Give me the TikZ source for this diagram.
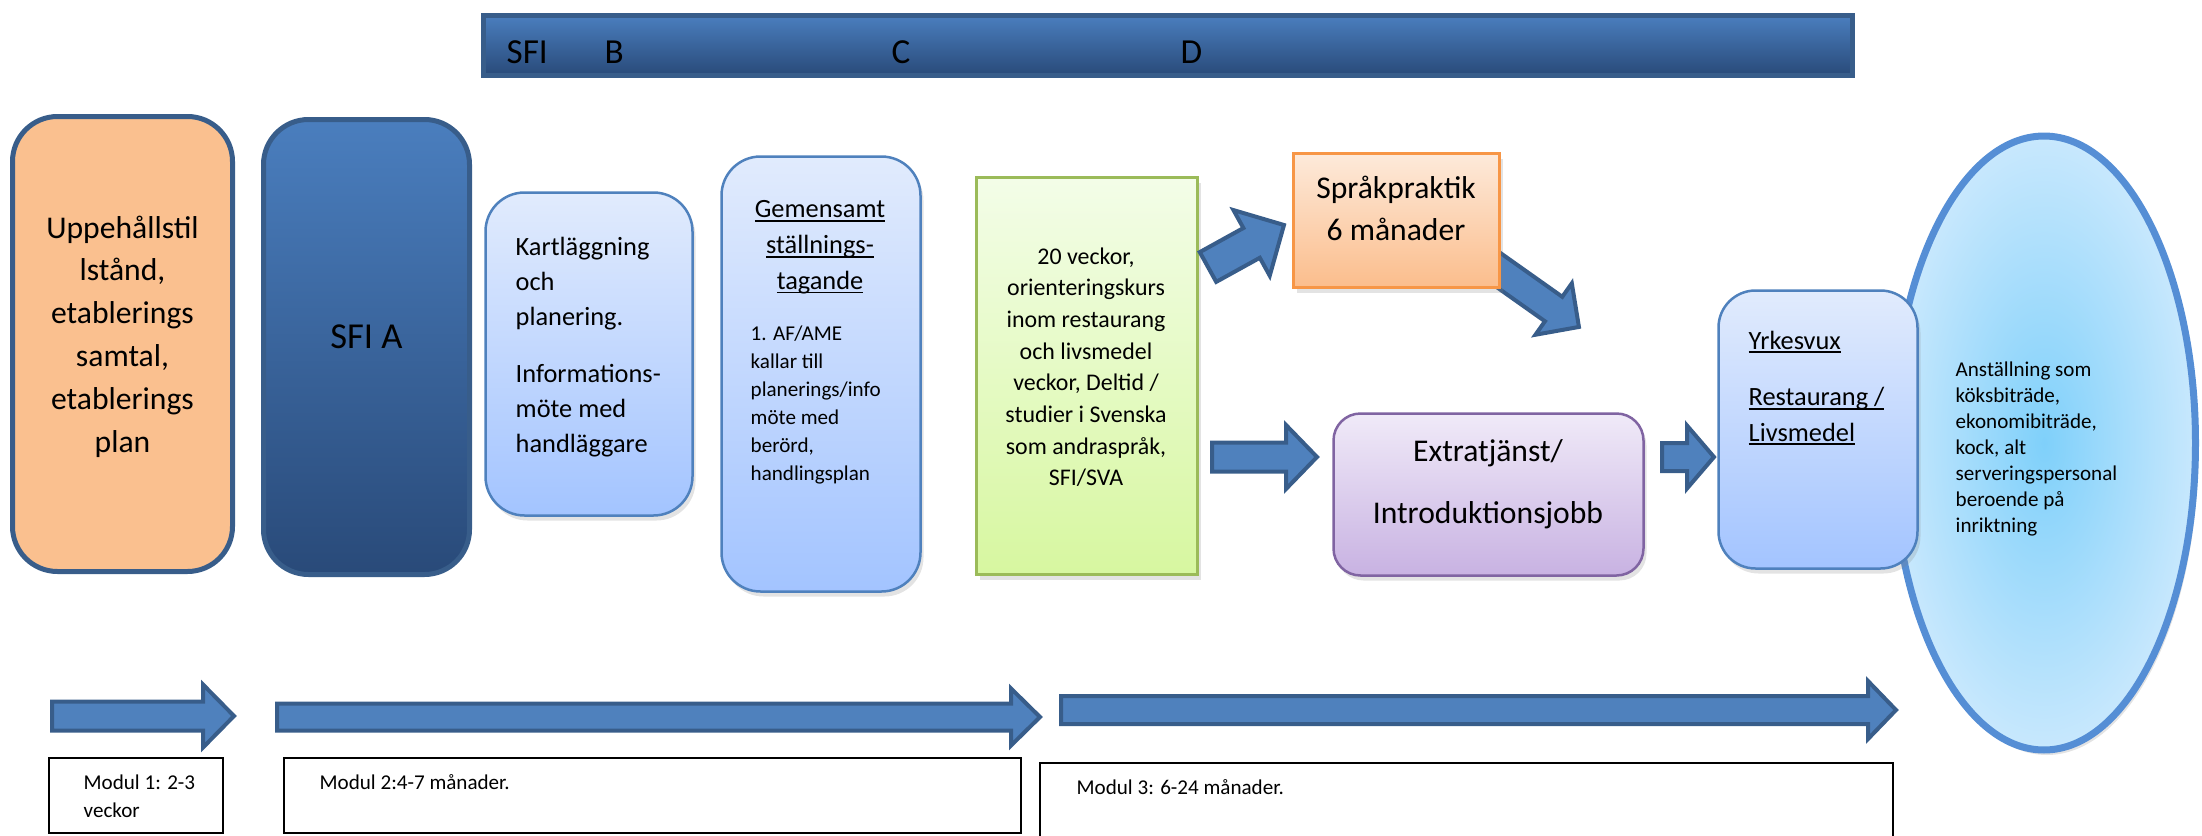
\documentclass[tikz,border=0pt]{standalone}
\usepackage{fontspec}
\setmainfont{Carlito}
\usetikzlibrary{shapes.geometric,shadows}

\definecolor{edgeblue}{RGB}{56,93,138}
\definecolor{arrowblue}{RGB}{79,129,189}
\definecolor{peach}{RGB}{250,192,143}
\definecolor{navytop}{RGB}{74,126,190}
\definecolor{navybot}{RGB}{41,74,121}
\definecolor{skytop}{RGB}{225,235,253}
\definecolor{skybot}{RGB}{163,196,255}
\definecolor{skyedge}{RGB}{79,129,189}
\definecolor{limetop}{RGB}{243,253,232}
\definecolor{limebot}{RGB}{215,247,160}
\definecolor{limeedge}{RGB}{155,187,89}
\definecolor{orangetop}{RGB}{253,234,218}
\definecolor{orangebot}{RGB}{251,189,140}
\definecolor{orangeedge}{RGB}{247,150,70}
\definecolor{lilactop}{RGB}{240,234,248}
\definecolor{lilacbot}{RGB}{200,178,226}
\definecolor{lilacedge}{RGB}{128,100,162}
\definecolor{jobinner}{RGB}{127,208,250}
\definecolor{jobouter}{RGB}{200,232,253}
\definecolor{jobedge}{RGB}{85,142,213}

\tikzset{
  lightshadow/.style={drop shadow={shadow xshift=0.3mm, shadow yshift=-0.5mm, opacity=0.22}},
  peachbox/.style={draw=edgeblue, line width=0.5mm, fill=peach, rounded corners=4.5mm, inner sep=0pt},
  navybox/.style={draw=edgeblue, line width=0.5mm, top color=navytop, bottom color=navybot, inner sep=0pt},
  skybox/.style={draw=skyedge, line width=0.25mm, top color=skytop, bottom color=skybot, rounded corners=3.9mm, inner sep=0pt, lightshadow},
  limebox/.style={draw=limeedge, line width=0.25mm, top color=limetop, bottom color=limebot, inner sep=0pt, lightshadow},
  orangebox/.style={draw=orangeedge, line width=0.25mm, top color=orangetop, bottom color=orangebot, inner sep=0pt, lightshadow},
  lilacbox/.style={draw=lilacedge, line width=0.25mm, top color=lilactop, bottom color=lilacbot, rounded corners=2.7mm, inner sep=0pt, lightshadow},
  jobbox/.style={ellipse, draw=jobedge, line width=0.7mm, inner color=jobinner, outer color=jobouter, inner sep=0pt, lightshadow},
  modbox/.style={draw=black, line width=0.2mm, fill=white, inner sep=0pt},
  flowarrow/.style={fill=arrowblue, draw=edgeblue, line width=0.4mm},
  txt/.style={inner sep=0pt, align=center},
  bigtxt/.style={txt, font=\fontsize{9}{12.2}\selectfont},
  sfitxt/.style={txt, font=\fontsize{10.4}{12}\selectfont},
  bartxt/.style={txt, anchor=base west, font=\fontsize{10}{12}\selectfont},
  midtxt/.style={txt, font=\fontsize{7.5}{10}\selectfont},
  coursetxt/.style={txt, font=\fontsize{6.8}{9}\selectfont},
  smalltxt/.style={txt, align=left, font=\fontsize{6}{8}\selectfont},
  tinytxt/.style={txt, align=left, font=\fontsize{6}{7.4}\selectfont},
}

% underline at a fixed depth, through the descenders
\newcommand\ulword[1]{\setbox0\hbox{#1}\rlap{\rule[-1.1pt]{\wd0}{0.5pt}}\box0}

% block arrow from one named coordinate to another: shaft, head width, head length
\newcommand\blockarrow[5]{%
  \pgfpointdiff{\pgfpointanchor{#1}{center}}{\pgfpointanchor{#2}{center}}%
  \pgfgetlastxy{\arrdx}{\arrdy}%
  \pgfmathsetmacro\arrang{atan2(\arrdy,\arrdx)}%
  \pgfmathsetmacro\arrlen{veclen(\arrdx,\arrdy)/0.284528}%
  \begin{scope}[shift={(#1)}, rotate=\arrang, y=0.1mm]
    \filldraw[flowarrow] (0,-#3/2) -- (\arrlen-#5,-#3/2) -- (\arrlen-#5,-#4/2)
      -- (\arrlen,0) -- (\arrlen-#5,#4/2) -- (\arrlen-#5,#3/2) -- (0,#3/2) -- cycle;
  \end{scope}}

\begin{document}
\begin{tikzpicture}[x=0.1mm, y=-0.1mm]
  \useasboundingbox (0,0) rectangle (2202,836);
  \clip (0,0) rectangle (2202,836);

  % SFI bar on top
  \node[navybox, minimum width=136.9mm, minimum height=6mm] (sfibar) at (1168,45.5) {};
  \node[bartxt] (sfi) at (506,63) {SFI};
  \node[bartxt] (sfib) at (604,63) {B};
  \node[bartxt] (sfic) at (891,63) {C};
  \node[bartxt] (sfid) at (1180,63) {D};

  % goal: employment
  \node[jobbox, minimum width=30.3mm, minimum height=61.4mm] (job) at (2044,443) {};
  \node[tinytxt, anchor=north west] (job-txt) at (1955,361)
    {Anställning som\\köksbiträde,\\ekonomibiträde,\\kock, alt\\serveringspersonal\\beroende på\\inriktning};

  % first steps
  \node[peachbox, minimum width=22mm, minimum height=45.5mm] (permit) at (122.5,344) {};
  \node[bigtxt, anchor=north] (permit-txt) at (122.5,215)
    {Uppehållstil\\lstånd,\\etablerings\\samtal,\\etablerings\\plan};
  \node[navybox, rounded corners=4.5mm, minimum width=20.6mm, minimum height=45.5mm] (sfia) at (366.5,347) {};
  \node[sfitxt, anchor=base] (sfia-txt) at (366.5,348) {SFI A};

  \node[skybox, minimum width=20.7mm, minimum height=32.3mm] (mapping) at (589,354) {};
  \node[midtxt, align=left, anchor=north west] (mapping-txt) at (515,236)
    {Kartläggning\\och\\planering.\\[6.3pt]Informations-\\möte med\\handläggare};

  \node[skybox, minimum width=19.9mm, minimum height=43.5mm] (joint) at (821,374) {};
  \node[midtxt, font=\fontsize{7.5}{10.2}\selectfont, anchor=north] (joint-head) at (820,200)
    {\ulword{Gemensamt}\\\ulword{ställnings-}\\\ulword{tagande}};
  \node[smalltxt, anchor=north west] (joint-txt) at (750,325)
    {1. AF/AME\\kallar till\\planerings/info\\möte med\\berörd,\\handlingsplan};

  \node[limebox, minimum width=22.1mm, minimum height=39.7mm] (course) at (1087,376) {};
  \node[coursetxt, anchor=north] (course-txt) at (1086,247)
    {20 veckor,\\orienteringskurs\\inom restaurang\\och livsmedel\\veckor, Deltid /\\studier i Svenska\\som andraspråk,\\SFI/SVA};

  % language practice
  \coordinate (p2s) at (1490,264);
  \coordinate (p2e) at (1579,327);
  \blockarrow{p2s}{p2e}{30}{63}{31}
  \node[orangebox, minimum width=20.6mm, minimum height=13.4mm] (practice) at (1396.5,220.5) {};
  \node[bigtxt, anchor=north] (practice-txt) at (1396,175) {Språkpraktik\\6 månader};
  \coordinate (p1s) at (1208,267);
  \coordinate (p1e) at (1284,225);
  \blockarrow{p1s}{p1e}{34}{75}{37}

  % jobs and vocational school
  \node[lilacbox, minimum width=31mm, minimum height=16.2mm] (extra) at (1488.5,494.5) {};
  \node[bigtxt, font=\fontsize{9}{11}\selectfont, anchor=north] (extra-txt) at (1488,439)
    {Extratjänst/\\[6.6pt]Introduktionsjobb};
  \node[skybox, rounded corners=3.7mm, minimum width=19.9mm, minimum height=27.8mm] (adult) at (1818,429.5) {};
  \node[midtxt, align=left, anchor=north west] (adult-txt) at (1748,330)
    {\ulword{Yrkesvux}\\[6.2pt]\ulword{Restaurang /}\\\ulword{Livsmedel}};

  \coordinate (q1s) at (1212,457);
  \coordinate (q1e) at (1317,457);
  \blockarrow{q1s}{q1e}{29}{64}{31}
  \coordinate (q2s) at (1662,457);
  \coordinate (q2e) at (1714,457);
  \blockarrow{q2s}{q2e}{28}{63}{27}

  % modules along the bottom
  \coordinate (m1s) at (52,716);
  \coordinate (m1e) at (234,716);
  \blockarrow{m1s}{m1e}{29}{63}{31}
  \coordinate (m2s) at (277,717);
  \coordinate (m2e) at (1040,717);
  \blockarrow{m2s}{m2e}{27}{57}{29}
  \coordinate (m3s) at (1061,710);
  \coordinate (m3e) at (1896,710);
  \blockarrow{m3s}{m3e}{28}{58}{28}

  \node[modbox, minimum width=17.4mm, minimum height=7.5mm] (mod1) at (136,795.5) {};
  \node[smalltxt, anchor=north west] (mod1-txt) at (83,774) {Modul 1: 2-3\\veckor};
  \node[modbox, minimum width=73.7mm, minimum height=7.5mm] (mod2) at (652.5,795.5) {};
  \node[smalltxt, anchor=north west] (mod2-txt) at (319,774) {Modul 2:4-7 månader.};
  \node[modbox, minimum width=85.3mm, minimum height=13.7mm] (mod3) at (1466.5,831.5) {};
  \node[smalltxt, anchor=north west] (mod3-txt) at (1076,779) {Modul 3: 6-24 månader.};
\end{tikzpicture}
\end{document}
